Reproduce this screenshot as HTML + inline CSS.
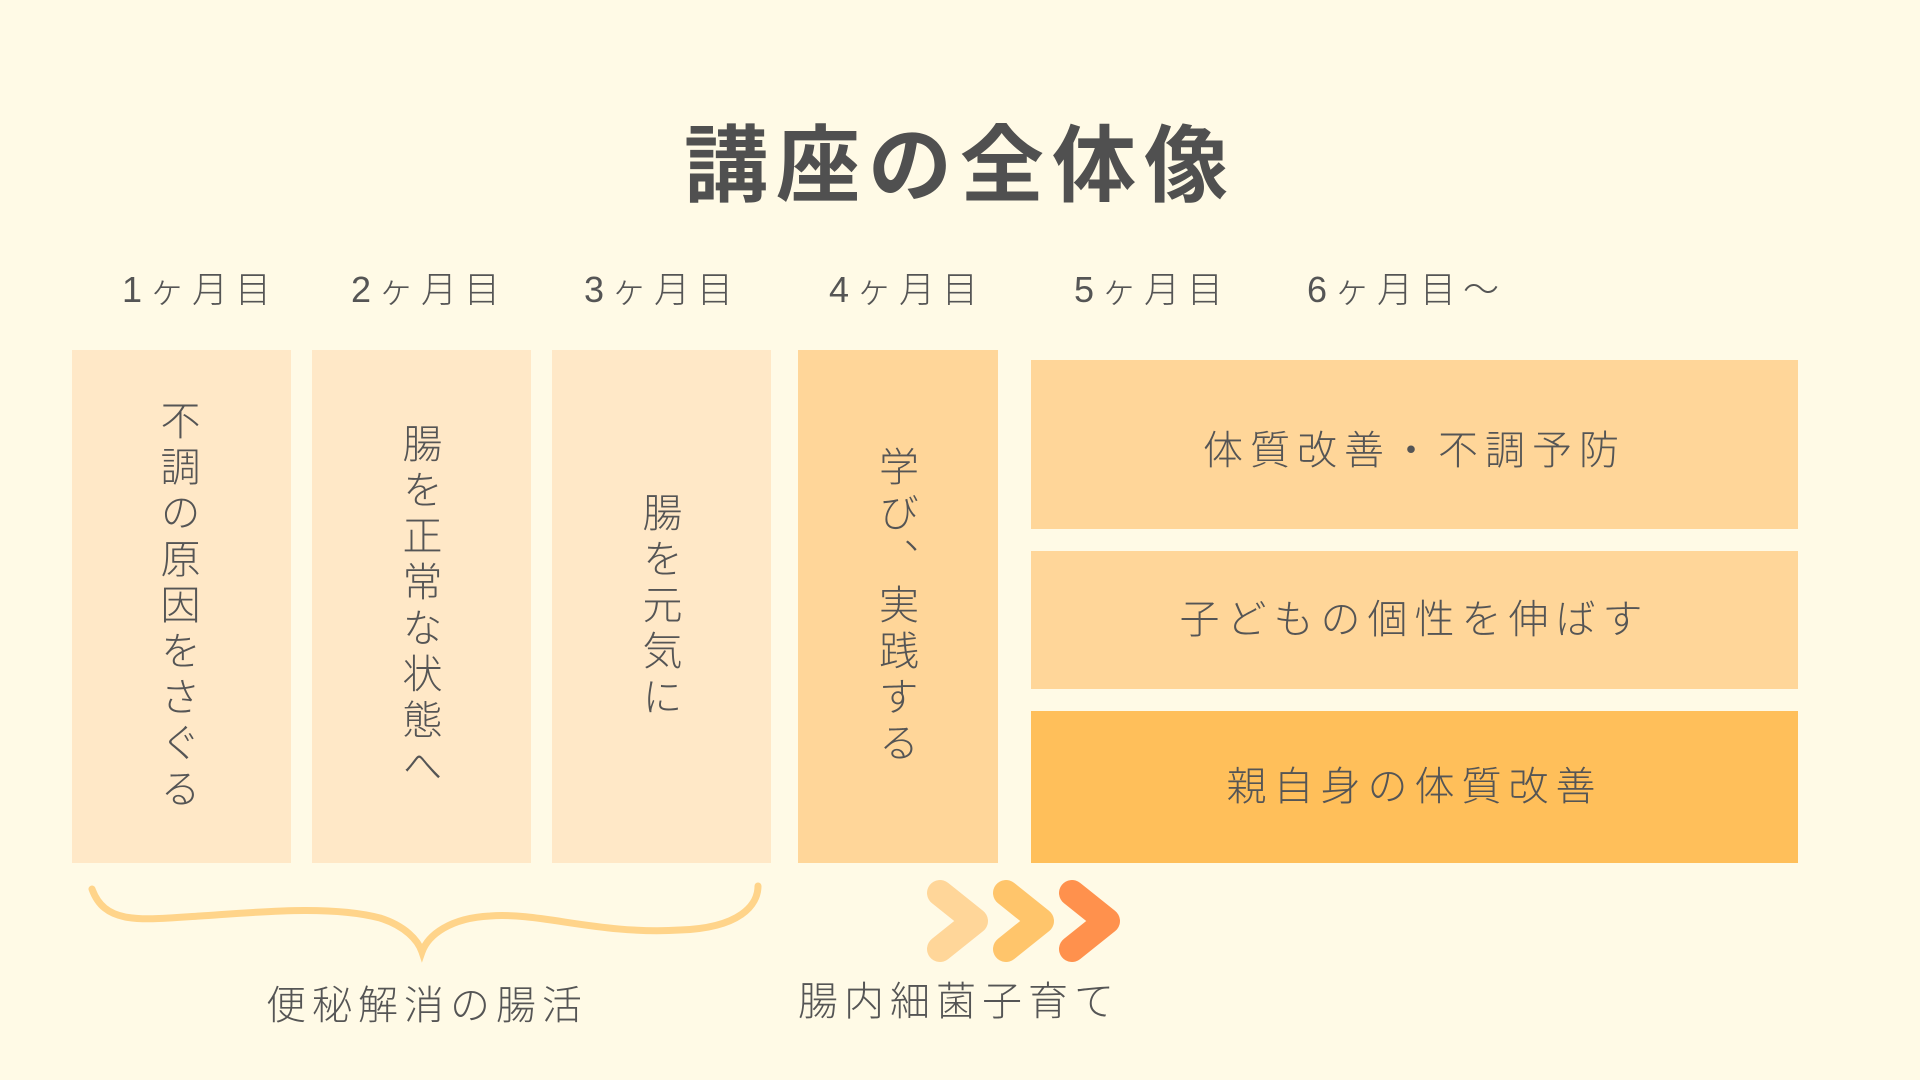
<!DOCTYPE html>
<html><head><meta charset="utf-8"><style>
body{margin:0;width:1920px;height:1080px;background:#fffae6;position:relative;overflow:hidden;font-family:"Liberation Sans","Noto Sans CJK JP",sans-serif;color:#555;}
.a{position:absolute;}
.t{left:0;width:1920px;top:124px;text-align:center;font-size:84px;font-weight:700;letter-spacing:8px;color:#505050;line-height:1;}
.m{top:272px;font-size:36px;font-weight:300;letter-spacing:7px;line-height:1;white-space:nowrap;}
.c{display:flex;align-items:center;justify-content:center;}
.v{writing-mode:vertical-rl;font-size:40px;font-weight:300;letter-spacing:6px;line-height:1;}
.h{font-size:40px;font-weight:300;letter-spacing:7px;line-height:1;}
.b{font-size:40px;font-weight:300;letter-spacing:6px;line-height:1;white-space:nowrap;}
</style></head><body>
<div class="a t">講座の全体像</div>
<div class="a m" style="left:122px">1ヶ月目</div>
<div class="a m" style="left:351px">2ヶ月目</div>
<div class="a m" style="left:584px">3ヶ月目</div>
<div class="a m" style="left:829px">4ヶ月目</div>
<div class="a m" style="left:1074px">5ヶ月目</div>
<div class="a m" style="left:1307px">6ヶ月目～</div>

<div class="a c" style="left:72px;top:350px;width:219px;height:513px;background:#ffe8c7"><span class="v" style="margin-right:10px">不調の原因をさぐる</span></div>
<div class="a c" style="left:312px;top:350px;width:219px;height:513px;background:#ffe8c7"><span class="v" style="margin-right:6px">腸を正常な状態へ</span></div>
<div class="a c" style="left:552px;top:350px;width:219px;height:513px;background:#ffe8c7"><span class="v" style="margin-right:6px">腸を元気に</span></div>
<div class="a c" style="left:798px;top:350px;width:200px;height:513px;background:#ffd699"><span class="v" style="margin-right:6px">学び、実践する</span></div>

<div class="a c" style="left:1031px;top:360px;width:767px;height:169px;background:#ffd699"><span class="h" style="margin-top:12px">体質改善・不調予防</span></div>
<div class="a c" style="left:1031px;top:551px;width:767px;height:138px;background:#ffd699"><span class="h">子どもの個性を伸ばす</span></div>
<div class="a c" style="left:1031px;top:711px;width:767px;height:152px;background:#ffbf5a"><span class="h">親自身の体質改善</span></div>

<svg class="a" style="left:0;top:0" width="1920" height="1080">
<path d="M92 889 C105 925 140 920 200 916 C260 912 330 905 380 918 C405 926 418 940 422 952 C428 935 450 918 490 916 C540 912 600 935 680 930 C740 928 758 905 758 886" fill="none" stroke="#ffd48a" stroke-width="7" stroke-linecap="round"/>
<g fill="none" stroke-width="26" stroke-linecap="round" stroke-linejoin="round">
<path d="M940 893 L975 921 L940 949" stroke="#ffd699"/>
<path d="M1006 893 L1041 921 L1006 949" stroke="#ffc56b"/>
<path d="M1072 893 L1107 921 L1072 949" stroke="#ff914d"/>
</g>
</svg>
<div class="a b" style="left:266px;top:986px">便秘解消の腸活</div>
<div class="a b" style="left:798px;top:982px">腸内細菌子育て</div>
</body></html>
